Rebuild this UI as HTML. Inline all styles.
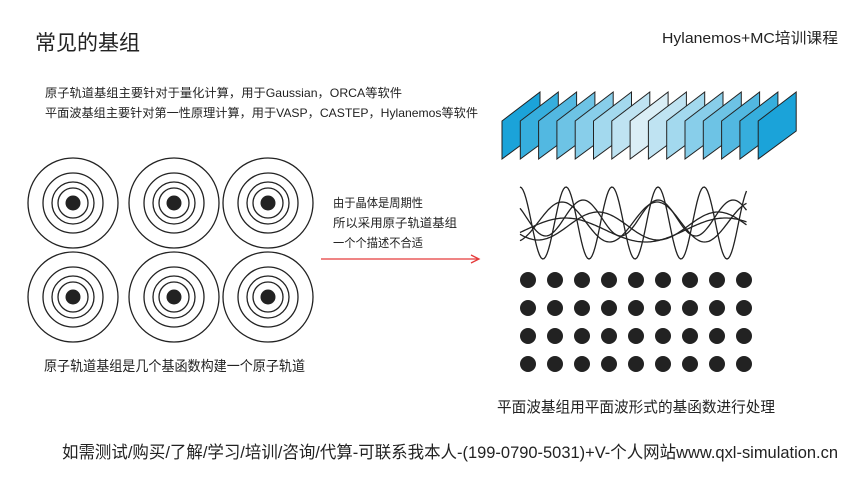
<!DOCTYPE html>
<html><head><meta charset="utf-8"><style>
html,body{margin:0;padding:0;background:#fff;}
svg{display:block;}
text{font-family:"Liberation Sans","Noto Sans CJK SC",sans-serif;fill:#222;}
</style></head><body>
<svg id="s" width="860" height="484" viewBox="0 0 860 484" xmlns="http://www.w3.org/2000/svg">
<rect width="860" height="484" fill="#fff"/>
<text x="35" y="50" font-size="21" textLength="105" lengthAdjust="spacingAndGlyphs">常见的基组</text>
<text x="662" y="43" font-size="15" textLength="176" lengthAdjust="spacingAndGlyphs">Hylanemos+MC培训课程</text>
<text x="45" y="97" font-size="12" textLength="357" lengthAdjust="spacingAndGlyphs">原子轨道基组主要针对于量化计算，用于Gaussian，ORCA等软件</text>
<text x="45" y="117" font-size="12" textLength="433" lengthAdjust="spacingAndGlyphs">平面波基组主要针对第一性原理计算，用于VASP，CASTEP，Hylanemos等软件</text>
<g id="circ" fill="none" stroke="#222" stroke-width="1.3"></g>
<text x="333" y="207" font-size="12" textLength="90" lengthAdjust="spacingAndGlyphs">由于晶体是周期性</text>
<text x="333" y="227" font-size="12" textLength="124" lengthAdjust="spacingAndGlyphs">所以采用原子轨道基组</text>
<text x="333" y="247" font-size="12" textLength="90" lengthAdjust="spacingAndGlyphs">一个个描述不合适</text>
<line x1="321" y1="259" x2="478" y2="259" stroke="#e53a3a" stroke-width="1.3"/>
<polyline points="471,255 479,259 471,263" fill="none" stroke="#e53a3a" stroke-width="1.3"/>
<g id="pan" stroke="#222" stroke-width="1"></g>
<g id="wav" fill="none" stroke="#222" stroke-width="1.3"></g>
<g id="dots" fill="#222"></g>
<text x="44" y="371" font-size="14" textLength="261" lengthAdjust="spacingAndGlyphs">原子轨道基组是几个基函数构建一个原子轨道</text>
<text x="497" y="412" font-size="15" textLength="278" lengthAdjust="spacingAndGlyphs">平面波基组用平面波形式的基函数进行处理</text>
<text x="62" y="458" font-size="17" textLength="776" lengthAdjust="spacingAndGlyphs">如需测试/购买/了解/学习/培训/咨询/代算-可联系我本人-(199-0790-5031)+V-个人网站www.qxl-simulation.cn</text>
</svg>
<script>
var NS="http://www.w3.org/2000/svg";
function el(p,t,a){var e=document.createElementNS(NS,t);for(var k in a)e.setAttribute(k,a[k]);document.getElementById(p).appendChild(e);return e;}
[[73,203],[174,203],[268,203],[73,297],[174,297],[268,297]].forEach(function(c){
 [45,30,21,15].forEach(function(r){el("circ","circle",{cx:c[0],cy:c[1],r:r});});
 el("circ","circle",{cx:c[0],cy:c[1],r:7.5,fill:"#222",stroke:"none"});
});
for(var i=0;i<15;i++){
 var x=502+i*18.3, d=Math.abs(i-7)/7;
 var c0=[27,163,217],c1=[218,238,246];
 var col="rgb("+c0.map(function(v,k){return Math.round(c1[k]+(v-c1[k])*d);}).join(",")+")";
 el("pan","polygon",{points:x+",121 "+(x+38)+",92 "+(x+38)+",131 "+x+",159",fill:col});
}
var W=[[36,46,0,223],[18,75,1,218],[14,120,2.2,226],[20,95,3.5,222],[12,160,4.5,230]];
W.forEach(function(w){var d="";for(var x=520;x<=747;x+=1.5){var y=w[3]-w[0]*Math.cos((x-520)/w[1]*2*Math.PI+w[2]);d+=(x==520?"M":"L")+x.toFixed(1)+","+y.toFixed(1);}el("wav","path",{d:d});});
for(var r=0;r<4;r++)for(var c=0;c<9;c++)el("dots","circle",{cx:528+c*27,cy:280+r*28,r:8});
</script>
</body></html>
